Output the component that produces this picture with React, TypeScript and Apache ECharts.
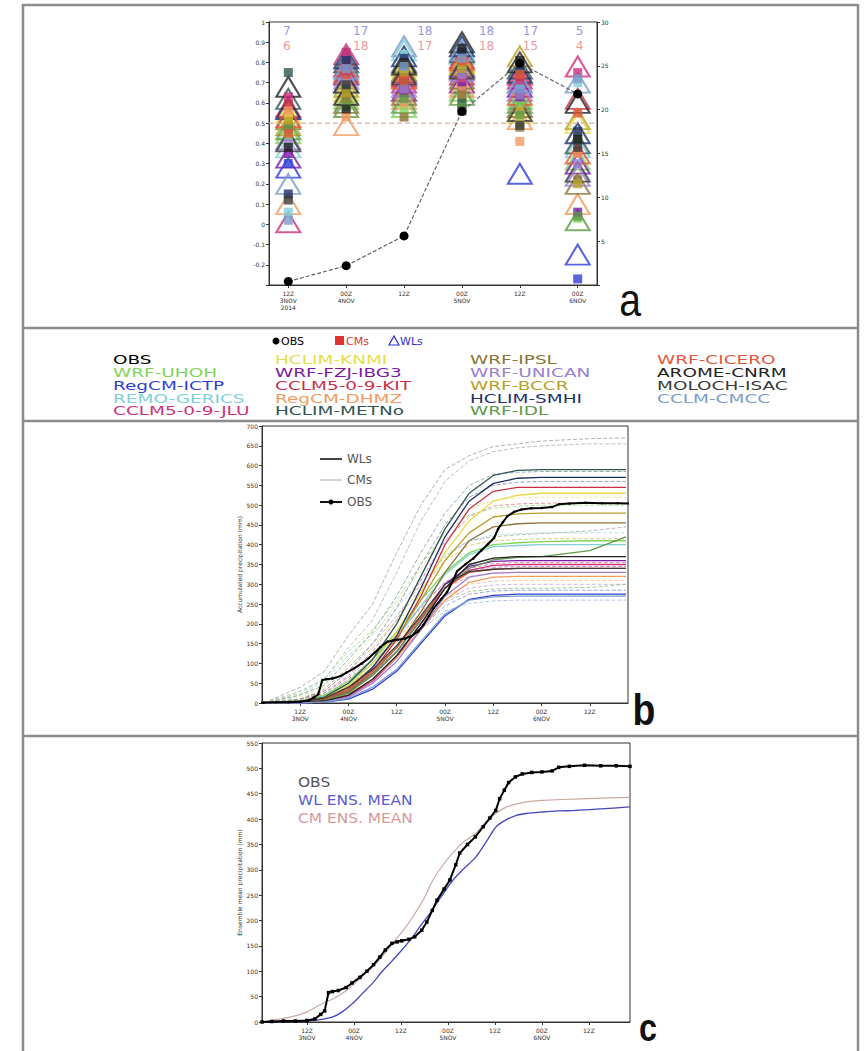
import React, { useEffect, useRef } from 'react';
import * as echarts from 'echarts';

// ---------- shared ----------
const models = ['WRF-UHOH', 'RegCM-ICTP', 'REMO-GERICS', 'CCLM5-0-9-JLU', 'HCLIM-KNMI', 'WRF-FZJ-IBG3', 'CCLM5-0-9-KIT', 'RegCM-DHMZ', 'HCLIM-METNo', 'WRF-IPSL', 'WRF-UNICAN', 'WRF-BCCR', 'HCLIM-SMHI', 'WRF-IDL', 'WRF-CICERO', 'AROME-CNRM', 'MOLOCH-ISAC', 'CCLM-CMCC'];
const modelColors = ['#7fd65a', '#2f3fd8', '#7fd0d8', '#d0307a', '#e6dc4a', '#7a1aa8', '#c83048', '#f29a5e', '#2f5552', '#8a7436', '#9b7fd0', '#b9a027', '#1d2f6e', '#5f9a48', '#e2583a', '#222222', '#3a3a3a', '#7b9cc9'];

// ---------- panel a ----------
const timesA = [0, 12, 24, 36, 48, 60];
const timeLabelsA = ['12Z\n3NOV\n2014', '00Z\n4NOV', '12Z', '00Z\n5NOV', '12Z', '00Z\n6NOV'];
// WL (triangles) per model at the six times
const wlA = [
  [0.45, 0.62, 0.58, 0.66, 0.62, 0.32],
  [0.28, 0.70, 0.75, 0.78, 0.25, -0.15],
  [0.38, 0.76, 0.86, 0.84, 0.70, 0.38],
  [0.01, 0.84, 0.70, 0.74, 0.72, 0.78],
  [0.55, 0.66, 0.78, 0.80, 0.55, 0.50],
  [0.33, 0.74, 0.66, 0.70, 0.68, 0.30],
  [0.58, 0.78, 0.73, 0.82, 0.74, 0.62],
  [0.10, 0.49, 0.62, 0.68, 0.52, 0.10],
  [0.62, 0.80, 0.80, 0.85, 0.77, 0.40],
  [0.52, 0.60, 0.64, 0.72, 0.58, 0.20],
  [0.42, 0.72, 0.68, 0.76, 0.66, 0.24],
  [0.49, 0.68, 0.76, 0.79, 0.83, 0.52],
  [0.57, 0.82, 0.83, 0.88, 0.75, 0.45],
  [0.47, 0.58, 0.60, 0.64, 0.60, 0.02],
  [0.53, 0.75, 0.72, 0.81, 0.64, 0.35],
  [0.68, 0.64, 0.79, 0.90, 0.80, 0.60],
  [0.41, 0.70, 0.74, 0.77, 0.56, 0.26],
  [0.20, 0.77, 0.88, 0.86, 0.70, 0.70],
];
// CM (squares) per model at the six times
const cmA = [
  [0.44, 0.60, 0.57, 0.62, 0.60, 0.03],
  [0.30, 0.73, 0.74, 0.76, 0.66, -0.27],
  [0.06, 0.78, 0.84, 0.83, 0.69, 0.70],
  [0.63, 0.85, 0.69, 0.72, 0.71, 0.75],
  [0.53, 0.70, 0.77, 0.79, 0.52, 0.44],
  [0.35, 0.76, 0.65, 0.68, 0.63, 0.06],
  [0.59, 0.80, 0.72, 0.80, 0.73, 0.36],
  [0.56, 0.53, 0.60, 0.66, 0.41, 0.35],
  [0.75, 0.67, 0.70, 0.60, 0.76, 0.42],
  [0.48, 0.62, 0.53, 0.64, 0.48, 0.22],
  [0.40, 0.71, 0.67, 0.74, 0.64, 0.30],
  [0.51, 0.65, 0.75, 0.77, 0.56, 0.20],
  [0.15, 0.81, 0.82, 0.85, 0.79, 0.46],
  [0.47, 0.58, 0.62, 0.58, 0.54, 0.04],
  [0.45, 0.74, 0.71, 0.81, 0.74, 0.55],
  [0.38, 0.57, 0.80, 0.87, 0.81, 0.42],
  [0.12, 0.69, 0.79, 0.56, 0.49, 0.38],
  [0.02, 0.77, 0.78, 0.82, 0.67, 0.72],
];
const obsA = [0.4, 2.2, 5.6, 19.8, 25.3, 21.8];
const wlCount = [7, 17, 18, 18, 17, 5];
const cmCount = [6, 18, 17, 18, 15, 4];
const countX = [-0.3, 15.0, 28.3, 41.1, 50.2, 60.4];

// ---------- panel b ----------
const hoursB = [-9, 0, 6, 12, 18, 24, 30, 36, 42, 48, 54, 60, 72, 81];
const wlB = [
  [0, 5, 20, 55, 110, 180, 260, 330, 380, 400, 405, 408, 410, 410],
  [0, 0, 2, 10, 35, 80, 150, 220, 262, 272, 275, 275, 275, 275],
  [0, 4, 16, 50, 100, 165, 245, 325, 375, 395, 398, 400, 400, 400],
  [0, 1, 4, 18, 55, 115, 200, 290, 335, 348, 350, 350, 350, 350],
  [0, 4, 14, 45, 100, 180, 280, 380, 460, 510, 525, 530, 530, 530],
  [0, 2, 8, 28, 70, 130, 210, 300, 345, 358, 360, 360, 360, 360],
  [0, 2, 8, 30, 80, 160, 270, 400, 490, 535, 545, 545, 545, 545],
  [0, 1, 5, 22, 60, 115, 185, 260, 305, 318, 320, 320, 320, 320],
  [0, 5, 15, 50, 110, 200, 320, 440, 530, 575, 588, 590, 590, 590],
  [0, 2, 8, 30, 75, 140, 230, 330, 410, 445, 453, 455, 455, 455],
  [0, 0, 3, 15, 50, 105, 185, 270, 318, 328, 330, 330, 330, 330],
  [0, 3, 12, 40, 90, 165, 260, 360, 430, 470, 478, 480, 480, 480],
  [0, 3, 10, 35, 90, 170, 290, 420, 510, 555, 568, 570, 570, 570],
  [0, 2, 6, 25, 70, 130, 210, 290, 340, 362, 368, 370, 385, 420],
  [0, 2, 10, 35, 80, 140, 215, 290, 330, 338, 340, 340, 340, 340],
  [0, 1, 5, 20, 60, 120, 200, 290, 350, 366, 370, 370, 370, 370],
  [0, 3, 12, 40, 85, 145, 220, 300, 332, 338, 340, 340, 340, 340],
  [0, 0, 3, 12, 40, 85, 155, 225, 260, 268, 270, 270, 270, 270],
];
const cmB = [
  [0, 25, 60, 130, 185, 260, 350, 430, 475, 492, 498, 500, 500, 500],
  [0, 2, 10, 35, 75, 130, 190, 245, 275, 283, 285, 285, 285, 285],
  [0, 20, 55, 120, 175, 240, 310, 375, 410, 424, 428, 430, 430, 430],
  [0, 5, 20, 60, 110, 170, 240, 305, 340, 352, 355, 355, 355, 355],
  [0, 15, 40, 100, 170, 250, 340, 430, 490, 512, 518, 520, 520, 520],
  [0, 8, 25, 65, 120, 175, 245, 305, 335, 343, 345, 345, 345, 345],
  [0, 8, 25, 70, 130, 210, 310, 410, 470, 498, 503, 505, 505, 505],
  [0, 6, 20, 55, 100, 155, 215, 270, 300, 308, 310, 310, 310, 310],
  [0, 20, 45, 110, 180, 270, 380, 480, 550, 578, 583, 585, 585, 585],
  [0, 10, 35, 90, 150, 220, 300, 370, 410, 420, 425, 428, 435, 445],
  [0, 4, 15, 45, 90, 145, 205, 260, 290, 298, 300, 300, 300, 300],
  [0, 10, 30, 80, 140, 210, 290, 360, 398, 410, 413, 415, 415, 415],
  [0, 10, 30, 80, 150, 240, 350, 450, 520, 550, 558, 560, 560, 560],
  [0, 3, 12, 40, 85, 140, 200, 255, 282, 288, 290, 290, 292, 300],
  [0, 5, 18, 55, 100, 160, 230, 290, 320, 328, 330, 330, 330, 330],
  [0, 40, 80, 170, 250, 380, 500, 590, 625, 648, 655, 662, 668, 670],
  [0, 30, 60, 140, 210, 330, 460, 560, 612, 635, 645, 650, 655, 655],
  [0, 3, 12, 40, 80, 130, 185, 232, 252, 258, 260, 260, 260, 260],
];
const cmLineColors = ['#a8e090', '#8f97e0', '#a9dfe4', '#e08ab0', '#eee79a', '#b58ad0', '#e08a9a', '#f5c09a', '#8fa5a3', '#b0b0b0', '#c2b0e0', '#d5c878', '#8a95b8', '#9fc290', '#eea08a', '#a8a8a8', '#b8b8b8', '#a9bedc'];

// ---------- OBS accumulated (panels b, c) ----------
const obsHours = [-11.5, -9, -6, -3, 0, 2, 3.5, 4.5, 5.5, 6.5, 8, 10, 11.5, 13.5, 15.3, 17, 18.6, 20, 21.7, 23, 24.2, 26, 27.5, 29.3, 30.6, 32, 33.2, 35, 36.5, 38, 39, 41, 43, 45, 46.7, 48.2, 49.2, 50.4, 51.5, 53.2, 55, 57.4, 60, 62.6, 64.3, 67, 70.9, 75, 79, 82.5];
const obsValues = [0, 1, 2, 2, 3, 6, 15, 22, 58, 60, 62, 68, 77, 88, 100, 113, 128, 142, 155, 158, 160, 163, 168, 181, 197, 220, 240, 262, 280, 310, 333, 350, 365, 385, 402, 417, 440, 457, 472, 483, 489, 492, 493, 495, 502, 504, 506, 505, 505, 504];

// ---------- panel c ensemble means ----------
const wlMeanHours = [-11.5, -6, 0, 3, 6.6, 9, 11.7, 14, 16.8, 19, 21.9, 24, 27, 29, 31.4, 34, 37.2, 40, 43.1, 46, 48.2, 50.5, 53.3, 56, 60.2, 64, 68.7, 75, 82.5];
const wlMeanValues = [0, 1, 2, 4, 10, 20, 37, 55, 77, 98, 122, 140, 168, 190, 214, 244, 279, 302, 325, 358, 384, 397, 407, 411, 414, 416, 417, 420, 424];
const cmMeanHours = [-11.5, -7.7, -4, 0, 4.1, 7, 10.2, 13, 16.8, 19, 21.9, 24.5, 27, 30, 32.1, 34.5, 37.2, 40, 43.1, 45.5, 48.2, 51, 54.2, 57, 60.2, 70, 82.5];
const cmMeanValues = [0, 5, 10, 20, 37, 47, 63, 82, 109, 127, 155, 180, 207, 245, 279, 307, 333, 355, 372, 392, 411, 424, 431, 435, 437, 440, 443];

const tickHoursB = [0, 12, 24, 36, 48, 60, 72];
const tickLabelsB = ['12Z\n3NOV', '00Z\n4NOV', '12Z', '00Z\n5NOV', '12Z', '00Z\n6NOV', '12Z'];

const FONT = '"DejaVu Sans", sans-serif';

export default function App() {
  const ref = useRef<HTMLDivElement>(null);
  useEffect(() => {
    if (!ref.current) return;
    const chart = echarts.init(ref.current, undefined, { renderer: 'svg' });

    const axisLine = { show: true, onZero: false, lineStyle: { color: '#333', width: 1 } };
    const tinyLabel = { fontSize: 6, color: '#333', fontFamily: FONT };
    const labelMapA: Record<number, string> = {};
    timesA.forEach((t, i) => (labelMapA[t] = timeLabelsA[i]));
    const labelMapB: Record<number, string> = {};
    tickHoursB.forEach((t, i) => (labelMapB[t] = tickLabelsB[i]));

    const series: any[] = [];
    // panel a: 0.5 reference line
    series.push({
      type: 'line', xAxisIndex: 0, yAxisIndex: 0, data: [[-4, 0.5], [64, 0.5]], symbol: 'none', silent: true,
      lineStyle: { color: '#d9b0a0', width: 1.2, type: [5, 3] },
    });
    models.forEach((m, k) => {
      series.push({
        type: 'scatter', name: m + ' WL', xAxisIndex: 0, yAxisIndex: 0, symbol: 'triangle', symbolSize: [24, 20],
        itemStyle: { color: 'rgba(255,255,255,0)', borderColor: modelColors[k], borderWidth: 2 },
        data: timesA.map((t, i) => [t, wlA[k][i]]), z: 2,
      });
    });
    models.forEach((m, k) => {
      series.push({
        type: 'scatter', name: m + ' CM', xAxisIndex: 0, yAxisIndex: 0, symbol: 'rect', symbolSize: 9,
        itemStyle: { color: modelColors[k] },
        data: timesA.map((t, i) => [t, cmA[k][i]]), z: 3,
      });
    });
    series.push({
      type: 'line', name: 'OBS', xAxisIndex: 0, yAxisIndex: 1, data: timesA.map((t, i) => [t, obsA[i]]),
      symbol: 'circle', symbolSize: 9, itemStyle: { color: '#000' }, lineStyle: { color: '#666', width: 1.2, type: [4, 2] }, z: 4,
    });
    series.push({
      type: 'scatter', xAxisIndex: 0, yAxisIndex: 0, symbolSize: 1, silent: true, itemStyle: { color: 'rgba(0,0,0,0)' },
      data: countX.map((x, i) => [x, 0.955, wlCount[i]]), z: 5,
      label: { show: true, position: 'inside', formatter: (p: any) => String(p.data[2]), fontSize: 12, color: '#7b7bd6', fontFamily: FONT },
    });
    series.push({
      type: 'scatter', xAxisIndex: 0, yAxisIndex: 0, symbolSize: 1, silent: true, itemStyle: { color: 'rgba(0,0,0,0)' },
      data: countX.map((x, i) => [x, 0.88, cmCount[i]]), z: 5,
      label: { show: true, position: 'inside', formatter: (p: any) => String(p.data[2]), fontSize: 12, color: '#e58080', fontFamily: FONT },
    });

    // panel b
    models.forEach((m, k) => {
      series.push({
        type: 'line', name: m + ' CM b', xAxisIndex: 1, yAxisIndex: 2, symbol: 'none', silent: true,
        data: hoursB.map((h, i) => [h, cmB[k][i]]),
        lineStyle: { color: cmLineColors[k], width: 0.9, type: [4, 2] },
      });
    });
    models.forEach((m, k) => {
      series.push({
        type: 'line', name: m + ' WL b', xAxisIndex: 1, yAxisIndex: 2, symbol: 'none', silent: true,
        data: hoursB.map((h, i) => [h, wlB[k][i]]),
        lineStyle: { color: modelColors[k], width: 1.3 },
      });
    });
    series.push({
      type: 'line', name: 'OBS b', xAxisIndex: 1, yAxisIndex: 2, symbol: 'circle', symbolSize: 2.5, silent: true,
      data: obsHours.map((h, i) => [h, obsValues[i]]), itemStyle: { color: '#000' },
      lineStyle: { color: '#000', width: 2 }, z: 4,
    });

    // panel c
    series.push({
      type: 'line', name: 'CM ENS. MEAN', xAxisIndex: 2, yAxisIndex: 3, symbol: 'none', silent: true,
      data: cmMeanHours.map((h, i) => [h, cmMeanValues[i]]), lineStyle: { color: '#c9aaa2', width: 1.2 }, smooth: 0.3,
    });
    series.push({
      type: 'line', name: 'WL ENS. MEAN', xAxisIndex: 2, yAxisIndex: 3, symbol: 'none', silent: true,
      data: wlMeanHours.map((h, i) => [h, wlMeanValues[i]]), lineStyle: { color: '#4646c0', width: 1.3 }, smooth: 0.3,
    });
    series.push({
      type: 'line', name: 'OBS c', xAxisIndex: 2, yAxisIndex: 3, symbol: 'rect', symbolSize: 3.5, silent: true,
      data: obsHours.map((h, i) => [h, obsValues[i]]), itemStyle: { color: '#000' },
      lineStyle: { color: '#000', width: 2 }, z: 4,
    });

    const fmtA = (v: number) => {
      const r = Math.round(v * 10) / 10;
      if (Math.abs(r + 0.3) < 1e-6) return '';
      return String(r);
    };

    const graphic: any[] = [];
    const border = { stroke: '#8c8c8c', lineWidth: 2.5 };
    graphic.push({ type: 'line', shape: { x1: 22, y1: 5, x2: 858, y2: 5 }, style: border });
    graphic.push({ type: 'line', shape: { x1: 23, y1: 4, x2: 23, y2: 1051 }, style: border });
    graphic.push({ type: 'line', shape: { x1: 858, y1: 4, x2: 858, y2: 1051 }, style: border });
    [328, 421, 736].forEach((y) => graphic.push({ type: 'line', shape: { x1: 22, y1: y, x2: 859, y2: y }, style: border }));

    // legend panel
    graphic.push({ type: 'circle', shape: { cx: 276, cy: 341, r: 3.5 }, style: { fill: '#000' } });
    graphic.push({ type: 'text', x: 281, y: 341, style: { text: 'OBS', fontSize: 11, fontFamily: FONT, fill: '#000', textVerticalAlign: 'middle' } });
    graphic.push({ type: 'rect', shape: { x: 335, y: 336, width: 9, height: 9 }, style: { fill: '#e03030' } });
    graphic.push({ type: 'text', x: 346, y: 341, style: { text: 'CMs', fontSize: 11, fontFamily: FONT, fill: '#e03030', textVerticalAlign: 'middle' } });
    graphic.push({ type: 'polygon', shape: { points: [[394, 336], [389, 345], [399, 345]] }, style: { fill: 'none', stroke: '#3030d0', lineWidth: 1.2 } });
    graphic.push({ type: 'text', x: 400, y: 341, style: { text: 'WLs', fontSize: 11, fontFamily: FONT, fill: '#3030d0', textVerticalAlign: 'middle' } });

    const legendNames = ['OBS', ...models];
    const legendColors = ['#000000', ...modelColors];
    const colX = [113, 275, 470, 657];
    const rowY = [360, 373, 386, 398.5, 411];
    legendNames.forEach((n, i) => {
      const c = Math.floor(i / 5);
      const r = i % 5;
      graphic.push({
        type: 'text', x: colX[c], y: rowY[r], scaleX: 1.42,
        style: { text: n, fontSize: 13, fontFamily: FONT, fill: legendColors[i], textVerticalAlign: 'middle' },
      });
    });

    // panel b legend
    graphic.push({ type: 'line', shape: { x1: 320, y1: 459, x2: 342, y2: 459 }, style: { stroke: '#444', lineWidth: 2 } });
    graphic.push({ type: 'text', x: 347, y: 459, style: { text: 'WLs', fontSize: 12, fontFamily: FONT, fill: '#555', textVerticalAlign: 'middle' } });
    graphic.push({ type: 'line', shape: { x1: 320, y1: 480, x2: 342, y2: 480 }, style: { stroke: '#aaa', lineWidth: 1 } });
    graphic.push({ type: 'text', x: 347, y: 480, style: { text: 'CMs', fontSize: 12, fontFamily: FONT, fill: '#555', textVerticalAlign: 'middle' } });
    graphic.push({ type: 'line', shape: { x1: 320, y1: 502, x2: 342, y2: 502 }, style: { stroke: '#111', lineWidth: 2 } });
    graphic.push({ type: 'circle', shape: { cx: 331, cy: 502, r: 2.5 }, style: { fill: '#000' } });
    graphic.push({ type: 'text', x: 347, y: 502, style: { text: 'OBS', fontSize: 12, fontFamily: FONT, fill: '#555', textVerticalAlign: 'middle' } });

    // panel c legend
    graphic.push({ type: 'text', x: 298, y: 782, scaleX: 1.1, style: { text: 'OBS', fontSize: 14, fontFamily: FONT, fill: '#555', textVerticalAlign: 'middle' } });
    graphic.push({ type: 'text', x: 298, y: 800, scaleX: 1.1, style: { text: 'WL ENS. MEAN', fontSize: 14, fontFamily: FONT, fill: '#5b5bd0', textVerticalAlign: 'middle' } });
    graphic.push({ type: 'text', x: 298, y: 818, scaleX: 1.1, style: { text: 'CM ENS. MEAN', fontSize: 14, fontFamily: FONT, fill: '#d69a9a', textVerticalAlign: 'middle' } });

    // panel letters
    graphic.push({ type: 'text', x: 630, y: 300, scaleX: 0.85, style: { text: 'a', fontSize: 46, fontFamily: '"Liberation Sans", Arial', fill: '#111', textAlign: 'center', textVerticalAlign: 'middle' } });
    graphic.push({ type: 'text', x: 644, y: 710, scaleX: 0.85, style: { text: 'b', fontSize: 44, fontWeight: 'bold', fontFamily: '"Liberation Sans", Arial', fill: '#111', textAlign: 'center', textVerticalAlign: 'middle' } });
    graphic.push({ type: 'text', x: 648, y: 1028, scaleX: 0.85, style: { text: 'c', fontSize: 38, fontWeight: 'bold', fontFamily: '"Liberation Sans", Arial', fill: '#111', textAlign: 'center', textVerticalAlign: 'middle' } });

    const option: any = {
      animation: false,
      backgroundColor: '#fff',
      grid: [
        { left: 269, top: 22, width: 328, height: 263, show: true, borderColor: '#333', borderWidth: 1, containLabel: false },
        { left: 262, top: 426, width: 366, height: 277, show: true, borderColor: '#333', borderWidth: 1, containLabel: false },
        { left: 262, top: 743, width: 368, height: 279, show: true, borderColor: '#333', borderWidth: 1, containLabel: false },
      ],
      xAxis: [
        {
          type: 'value', gridIndex: 0, min: -4, max: 64, splitLine: { show: false }, axisLine,
          axisTick: { show: true, length: 3, customValues: timesA },
          axisLabel: { ...tinyLabel, customValues: timesA, formatter: (v: number) => labelMapA[v] ?? '', lineHeight: 7, margin: 5 },
        },
        {
          type: 'value', gridIndex: 1, min: -9.5, max: 81.5, splitLine: { show: false }, axisLine,
          axisTick: { show: true, length: 3, customValues: tickHoursB },
          axisLabel: { ...tinyLabel, customValues: tickHoursB, formatter: (v: number) => labelMapB[v] ?? '', lineHeight: 7, margin: 5 },
        },
        {
          type: 'value', gridIndex: 2, min: -11.5, max: 82.5, splitLine: { show: false }, axisLine,
          axisTick: { show: true, length: 3, customValues: tickHoursB },
          axisLabel: { ...tinyLabel, customValues: tickHoursB, formatter: (v: number) => labelMapB[v] ?? '', lineHeight: 7, margin: 5 },
        },
      ],
      yAxis: [
        {
          type: 'value', gridIndex: 0, min: -0.3, max: 1, interval: 0.1, position: 'left', splitLine: { show: false }, axisLine,
          axisTick: { show: true, length: 3 }, axisLabel: { ...tinyLabel, formatter: fmtA, margin: 4 },
        },
        {
          type: 'value', gridIndex: 0, min: 0, max: 30, interval: 5, position: 'right', splitLine: { show: false }, axisLine,
          axisTick: { show: true, length: 3 }, axisLabel: { ...tinyLabel, formatter: (v: number) => (v === 0 ? '' : String(v)), margin: 4 },
        },
        {
          type: 'value', gridIndex: 1, min: 0, max: 700, interval: 50, splitLine: { show: false }, axisLine,
          axisTick: { show: true, length: 3 }, axisLabel: { ...tinyLabel, margin: 4 },
          name: 'Accumulated precipitation (mm)', nameLocation: 'middle', nameGap: 19, nameTextStyle: { ...tinyLabel },
        },
        {
          type: 'value', gridIndex: 2, min: 0, max: 550, interval: 50, splitLine: { show: false }, axisLine,
          axisTick: { show: true, length: 3 }, axisLabel: { ...tinyLabel, margin: 4 },
          name: 'Ensemble mean precipitation (mm)', nameLocation: 'middle', nameGap: 19, nameTextStyle: { ...tinyLabel },
        },
      ],
      series,
      graphic,
    };
    chart.setOption(option);
    return () => chart.dispose();
  }, []);

  return <div ref={ref} style={{ position: 'absolute', left: 0, top: 0, width: 864, height: 1051, background: '#fff' }} />;
}
